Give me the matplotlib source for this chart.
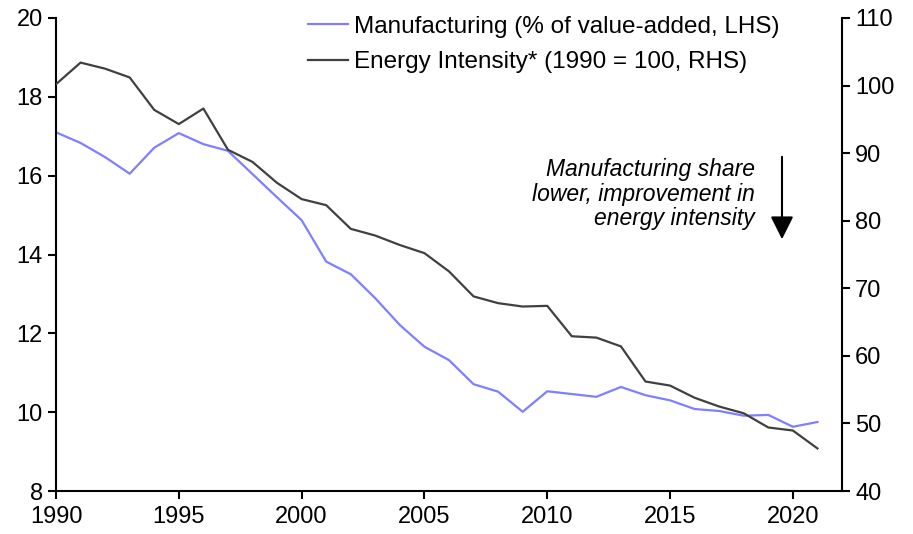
import numpy as np
import matplotlib.pyplot as plt

plt.rcParams['font.family'] = ['Liberation Sans', 'DejaVu Sans']

years = list(range(1990, 2022))
manufacturing = [17.1, 16.83, 16.47, 16.05, 16.71, 17.08, 16.8, 16.63, 16.04, 15.45,
                 14.87, 13.82, 13.5, 12.89, 12.21, 11.66, 11.32, 10.71, 10.52, 10.01,
                 10.53, 10.46, 10.39, 10.64, 10.43, 10.3, 10.08, 10.03, 9.91, 9.93,
                 9.63, 9.75]
energy = [100.2, 103.4, 102.5, 101.2, 96.4, 94.3, 96.6, 90.5, 88.7, 85.6,
          83.2, 82.3, 78.8, 77.8, 76.4, 75.2, 72.5, 68.8, 67.8, 67.3,
          67.4, 62.9, 62.7, 61.4, 56.2, 55.6, 53.8, 52.5, 51.5, 49.4,
          48.95, 46.3]

fig = plt.figure(figsize=(9.13, 5.34), dpi=100)
ax = fig.add_axes([56/913, 1 - 491/534, (842 - 56)/913, (491 - 18)/534])
ax2 = ax.twinx()

l1, = ax.plot(years, manufacturing, color='#7f7fff', lw=1.6,
              label='Manufacturing (% of value-added, LHS)')
l2, = ax2.plot(years, energy, color='#404040', lw=1.6,
               label='Energy Intensity* (1990 = 100, RHS)')

ax.set_xlim(1990, 2022)
ax.set_ylim(8, 20)
ax2.set_ylim(40, 110)
ax.set_xticks(range(1990, 2021, 5))
ax.set_yticks(range(8, 21, 2))
ax2.set_yticks(range(40, 111, 10))

for a in (ax, ax2):
    a.spines['top'].set_visible(False)
    for s in a.spines.values():
        s.set_linewidth(1.5)
    a.tick_params(direction='out', length=6, width=1.5, labelsize=17, colors='black')
ax.spines['right'].set_visible(False)
ax2.spines['left'].set_visible(False)
ax2.spines['bottom'].set_visible(False)
ax.tick_params(axis='x', pad=5)

ax.legend(handles=[l1, l2], loc='upper left', bbox_to_anchor=(292/913, 1.0),
          bbox_transform=fig.transFigure, frameon=False, fontsize=17.5,
          handlelength=1.65, handletextpad=0.25, labelspacing=0.55, borderaxespad=0.25)

fig.text(755/913, 1 - 194/534, 'Manufacturing share\nlower, improvement in\nenergy intensity',
         ha='right', va='center', style='italic', fontsize=16.5, linespacing=1.1)
ax.annotate('', xy=(782/913, 1 - 242/534), xytext=(782/913, 1 - 154/534),
            xycoords='figure fraction',
            arrowprops=dict(arrowstyle='-|>,head_width=0.7,head_length=1.4',
                            color='black', lw=1.5))

fig.savefig('out.png', dpi=100)
